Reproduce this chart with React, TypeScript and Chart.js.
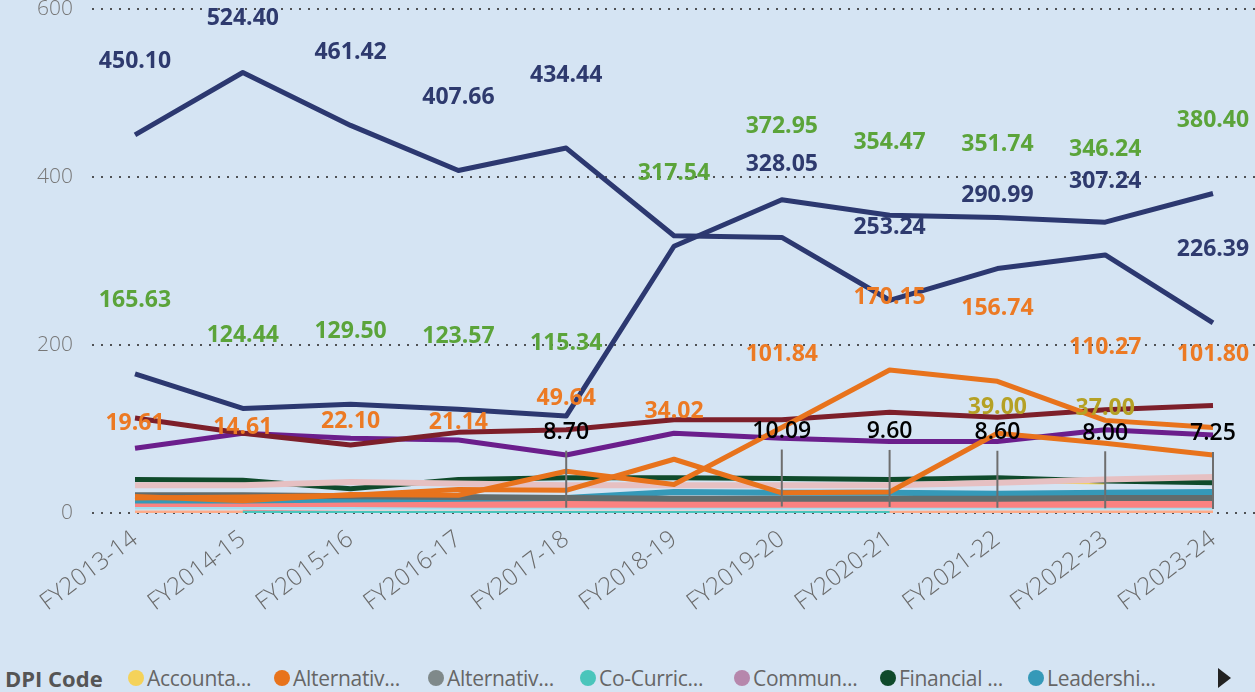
import { useEffect, useRef } from "react";
import { Chart, registerables } from "chart.js";

Chart.register(...registerables);

// ---------- data ----------
const years = [
  "FY2013-14", "FY2014-15", "FY2015-16", "FY2016-17", "FY2017-18", "FY2018-19",
  "FY2019-20", "FY2020-21", "FY2021-22", "FY2022-23", "FY2023-24",
];
const yTickValues = [0, 200, 400, 600];

const navyAValues = [450.10, 524.40, 461.42, 407.66, 434.44, 330.0, 328.05, 253.24, 290.99, 307.24, 226.39];
const navyAShown = [1, 1, 1, 1, 1, 0, 1, 1, 1, 1, 1];

const navyBValues = [165.63, 124.44, 129.50, 123.57, 115.34, 317.54, 372.95, 354.47, 351.74, 346.24, 380.40];
const navyBShown = [1, 1, 1, 1, 1, 1, 1, 1, 1, 1, 1];

const orange1Values = [19.61, 14.61, 22.10, 21.14, 49.64, 34.02, 101.84, 170.15, 156.74, 110.27, 101.80];
const orange1Shown = [1, 1, 1, 1, 1, 1, 1, 1, 1, 1, 1];

const orange2Values = [18, 19, 21, 28, 27, 64, 24, 25, 95, 83, 69];
const maroonValues = [113, 95, 81, 96, 99, 111, 111, 120, 114, 123, 128];
const purpleValues = [77, 95, 89, 87, 69, 95, 89, 85, 85, 99, 93];
const darkGreenValues = [40, 39, 29, 40, 42, 42, 41, 40, 42, 38, 36];
const pinkValues = [33, 33, 37, 35, 33, 33, 33, 33, 36, 40, 43];
const grayValues = [21, 21, 20, 19, 18, 17, 17, 17, 17, 18, 18];
const blueValues = [15, 15, 16, 17, 18, 25, 24, 24, 23, 24, 25];
const salmonValues = [12, 12, 12, 11, 11, 11, 11, 11, 11, 11, 11];
const cyanValues = [6, 6, 6, 6, 6, 6, 6, 6, 6, 6, 6];
const tealValues = [null, 0.6, 0.6, 0.6, 0.6, 0.6, 0.6, 0.6, null, null, null];
const peachValues = [1.2, 1.2, 1, 1, 1, 1, 1, 1, 1.2, 1.2, 1.2];
const mauveValues = [null, 2, 0.6, 0.5, 0.5, 0.5, 0.5, 0.5, 0.5, 0.5, 0.5];

const accountaValues = [null, null, null, null, null, null, null, null, 39.0, 37.0, null];
const accountaShown = [0, 0, 0, 0, 0, 0, 0, 0, 1, 1, 0];

const otherValues = [null, null, null, null, 8.70, null, 10.09, 9.60, 8.60, 8.00, 7.25];
const otherShown = [0, 0, 0, 0, 1, 0, 1, 1, 1, 1, 1];

const legendNames = ["Accounta...", "Alternativ...", "Alternativ...", "Co-Curric...", "Commun...", "Financial ...", "Leadershi..."];
const legendColors = ["#F4D25A", "#E8731C", "#7F898A", "#4AC5BB", "#B687AC", "#0F4A2B", "#3599B8"];

// ---------- plugins ----------
const LABEL_RISE = 73;

const dotGridPlugin = {
  id: "dotGrid",
  beforeDatasetsDraw(chart: any) {
    const ys = chart.scales.y;
    const ctx = chart.ctx;
    ctx.save();
    ctx.setLineDash([2, 7]);
    ctx.lineWidth = 2;
    ctx.strokeStyle = "rgba(55,55,55,0.85)";
    ys.ticks.forEach((t: any) => {
      const py = Math.round(ys.getPixelForValue(t.value));
      ctx.beginPath();
      ctx.moveTo(92, py);
      ctx.lineTo(chart.width, py);
      ctx.stroke();
    });
    ctx.restore();
  },
};

const labelPlugin = {
  id: "pbiLabels",
  afterDatasetsDraw(chart: any) {
    const ctx = chart.ctx;
    const top = chart.chartArea.top + 9;
    chart.data.datasets.forEach((ds: any, di: number) => {
      const cfg = ds.pbi;
      if (!cfg) return;
      const meta = chart.getDatasetMeta(di);
      ds.data.forEach((v: any, i: number) => {
        if (v == null || !cfg.shown[i]) return;
        const el = meta.data[i];
        const x = el.x;
        const py = el.y;
        const ly = Math.max(py - LABEL_RISE, top);
        ctx.save();
        if (cfg.leader) {
          ctx.strokeStyle = "#6E6E6E";
          ctx.lineWidth = 2;
          ctx.beginPath();
          ctx.moveTo(x, ly + 18);
          ctx.lineTo(x, py + 2);
          ctx.stroke();
        }
        ctx.font = cfg.font;
        ctx.fillStyle = cfg.color;
        ctx.textAlign = "center";
        ctx.textBaseline = "middle";
        ctx.fillText(Number(v).toFixed(2), x, ly);
        ctx.restore();
      });
    });
  },
};

const BOLD = "bold 23px 'Open Sans', 'Noto Sans', sans-serif";

function line(label: string, data: any[], color: string, width: number, extra: any = {}) {
  return {
    label,
    data,
    borderColor: color,
    backgroundColor: color,
    borderWidth: width,
    pointRadius: 0,
    pointHoverRadius: 0,
    tension: 0,
    fill: false,
    borderJoinStyle: "round",
    borderCapStyle: "butt",
    spanGaps: false,
    ...extra,
  };
}

export default function App() {
  const canvasRef = useRef<HTMLCanvasElement | null>(null);

  useEffect(() => {
    if (!canvasRef.current) return;
    const datasets: any[] = [
      line("Series A", navyAValues, "#2C3870", 5, { pbi: { shown: navyAShown, color: "#2E3A6E", font: BOLD } }),
      line("Series B", navyBValues, "#2C3870", 5, { pbi: { shown: navyBShown, color: "#5BA43A", font: BOLD } }),
      line("Alternativ 1", orange1Values, "#E8731C", 5, { pbi: { shown: orange1Shown, color: "#EC7A24", font: BOLD } }),
      line("Alternativ 2", orange2Values, "#E8731C", 5),
      line("Maroon", maroonValues, "#7D1F2A", 5),
      line("Purple", purpleValues, "#6B1E8C", 5),
      line("Alternativ Gray", grayValues, "#626C6C", 6),
      line("Pink", pinkValues, "#E6C0C2", 6),
      line("Financial", darkGreenValues, "#0F4A2B", 5),
      line("Accounta", accountaValues, "#F4D25A", 5, { pbi: { shown: accountaShown, color: "#B5A125", font: BOLD } }),
      line("Leadershi", blueValues, "#3599B8", 6),
      line("Salmon", salmonValues, "#FB8281", 8),
      line("Cyan", cyanValues, "#A4DDEE", 3),
      line("Co-Curric", tealValues, "#4AC5BB", 3),
      line("Peach", peachValues, "#FDAB89", 3),
      line("Commun", mauveValues, "#B687AC", 3),
      line("Other", otherValues, "#6E6E6E", 0, {
        showLine: false,
        pbi: { shown: otherShown, color: "#000000", font: "600 23px 'Open Sans', 'Noto Sans', sans-serif", leader: true },
      }),
    ];

    const chart = new Chart(canvasRef.current, {
      type: "line",
      data: { labels: years, datasets },
      options: {
        animation: false,
        responsive: false,
        maintainAspectRatio: false,
        layout: { padding: { top: 9, right: 42, bottom: 0, left: 0 } },
        plugins: { legend: { display: false }, tooltip: { enabled: false } },
        scales: {
          x: {
            type: "category",
            offset: false,
            grid: { display: false },
            border: { display: false },
            afterFit: (s: any) => { s.height = 137; },
            ticks: {
              autoSkip: false,
              maxRotation: 37,
              minRotation: 37,
              padding: 4,
              color: "#6A6A6A",
              font: { family: "'Open Sans', 'Noto Sans', sans-serif", size: 24, weight: "300" },
            },
          },
          y: {
            min: 0,
            max: 600,
            grid: { display: false, drawTicks: false },
            border: { display: false },
            afterFit: (s: any) => { s.width = 135; s.paddingTop = 0; s.paddingBottom = 0; },
            afterBuildTicks: (s: any) => { s.ticks = yTickValues.map((v) => ({ value: v })); },
            ticks: {
              padding: 62,
              color: "#777777",
              font: { family: "'Open Sans', 'Noto Sans', sans-serif", size: 21, weight: "300" },
            },
          },
        },
      },
      plugins: [dotGridPlugin, labelPlugin],
    } as any);
    return () => chart.destroy();
  }, []);

  return (
    <div style={{ position: "fixed", left: 0, top: 0, width: 1255, height: 692, background: "#D5E4F3", overflow: "hidden" }}>
      <canvas ref={canvasRef} width={1255} height={650} style={{ position: "absolute", left: 0, top: 0, width: 1255, height: 650 }} />
      <div style={{ position: "absolute", left: 0, top: 664, height: 28, width: 1255, fontFamily: "'Open Sans', 'Noto Sans', sans-serif" }}>
        <span style={{ position: "absolute", left: 5, top: 0, fontSize: 22, fontWeight: 700, color: "#555555", lineHeight: "28px" }}>DPI Code</span>
        {legendNames.map((n, i) => (
          <div key={i} style={{ position: "absolute", left: [128, 274, 428, 580, 734, 880, 1028][i], top: 0, height: 28, display: "flex", alignItems: "center" }}>
            <span style={{ width: 16, height: 16, borderRadius: "50%", background: legendColors[i], display: "inline-block", marginRight: 3 }} />
            <span style={{ fontSize: 21, color: "#666666", fontWeight: 400, whiteSpace: "nowrap", letterSpacing: -0.3 }}>{n}</span>
          </div>
        ))}
        <div style={{ position: "absolute", left: 1218, top: 4, width: 0, height: 0, borderTop: "10px solid transparent", borderBottom: "10px solid transparent", borderLeft: "13px solid #222222" }} />
      </div>
    </div>
  );
}
